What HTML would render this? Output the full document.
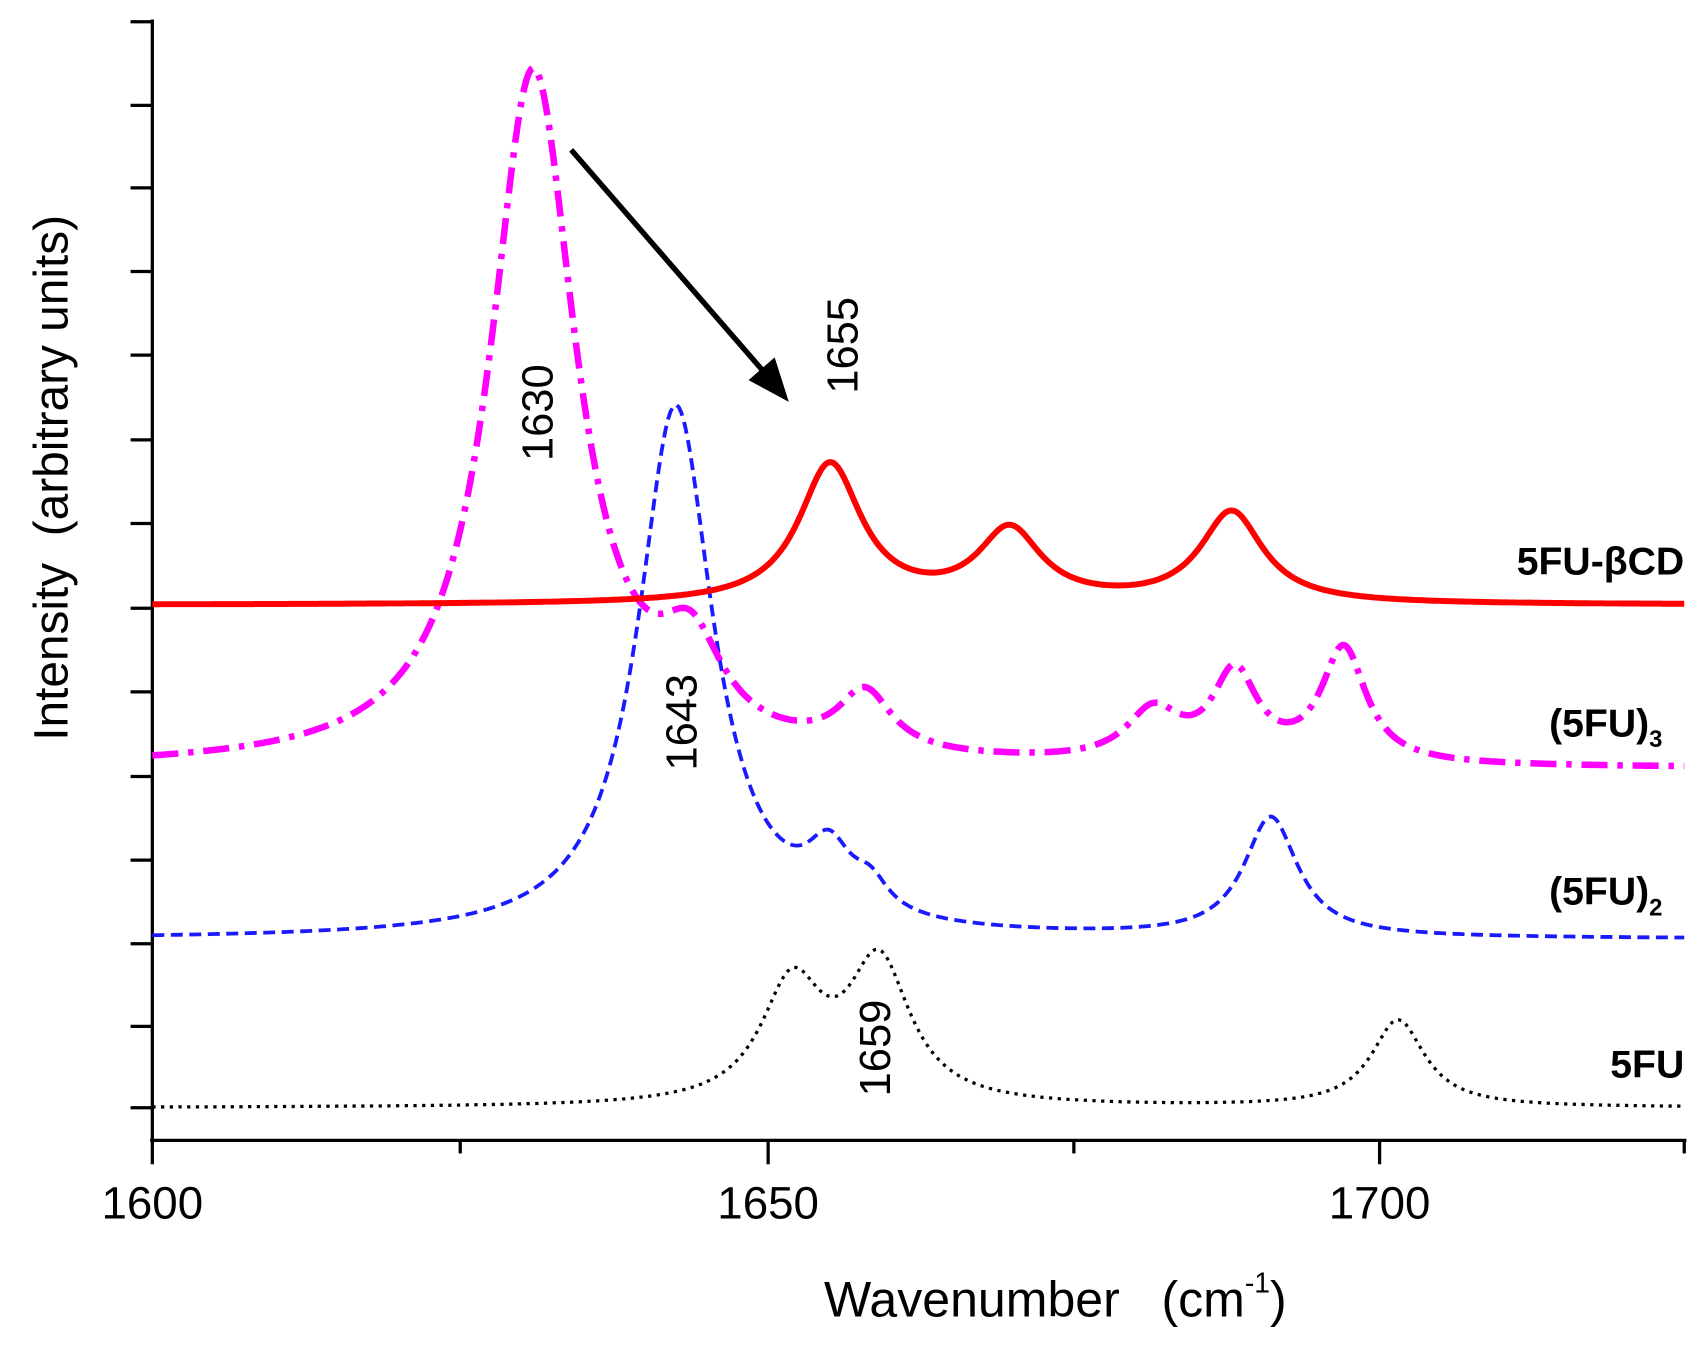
<!DOCTYPE html>
<html><head><meta charset="utf-8"><style>
html,body{margin:0;padding:0;background:#fff;}
svg{display:block;}
text{font-family:"Liberation Sans",Arial,sans-serif;}
</style></head><body>
<svg id="s" width="1706" height="1350" viewBox="0 0 1568 1243" preserveAspectRatio="none" xmlns="http://www.w3.org/2000/svg">
<rect width="1568" height="1243" fill="#fff"/>
<g stroke="#000" stroke-width="3" fill="none">
<line x1="140" y1="18" x2="140" y2="1052"/>
<line x1="138" y1="1050" x2="1550" y2="1050"/>
</g>
<g id="ticks" stroke="#000" stroke-width="3"></g>
<g font-size="42" text-anchor="middle" fill="#000">
<text x="140" y="1122">1600</text>
<text x="706" y="1122">1650</text>
<text x="1268" y="1122">1700</text>
</g>
<text x="970" y="1212" font-size="46" text-anchor="middle">Wavenumber&#160;&#160;&#160;(cm<tspan font-size="26" dy="-22">-1</tspan><tspan dy="22">)</tspan></text>
<text transform="translate(62,440) rotate(-90)" font-size="44" text-anchor="middle">Intensity&#160;&#160;(arbitrary units)</text>
<path id="pk" d="" stroke="#000" fill="none" stroke-width="3" stroke-dasharray="3 5"/>
<path id="pb" d="" stroke="#1a1aff" fill="none" stroke-width="3.5" stroke-dasharray="11 6"/>
<path id="pm" d="" stroke="#ff00ff" fill="none" stroke-width="6" stroke-dasharray="24 9 5 9"/>
<path id="pr" d="" stroke="#ff0000" fill="none" stroke-width="5.5"/>
<line x1="525" y1="138" x2="700" y2="340" stroke="#000" stroke-width="5"/>
<polygon points="725,370 688,350 712,329" fill="#000"/>
<g font-size="40" fill="#000" text-anchor="middle">
<text transform="translate(508,380) rotate(-90)">1630</text>
<text transform="translate(788,318) rotate(-90)">1655</text>
<text transform="translate(640,665) rotate(-90)">1643</text>
<text transform="translate(818,965) rotate(-90)">1659</text>
</g>
<g font-size="36" font-weight="bold" fill="#000" text-anchor="end">
<text x="1548" y="529">5FU-βCD</text>
<text x="1528" y="678">(5FU)<tspan font-size="22" dy="10">3</tspan></text>
<text x="1528" y="833">(5FU)<tspan font-size="22" dy="10">2</tspan></text>
<text x="1548" y="992">5FU</text>
</g>
</svg>
<script>
var t=document.getElementById('ticks'),h='';
var ys=[20,97,173,250,327,405,482,560,637,715,792,869,945,1020];
ys.forEach(function(y){h+='<line x1="120" y1="'+y+'" x2="140" y2="'+y+'"/>';});
[[140,22],[423,12],[706,22],[987,12],[1268,22],[1548,12]].forEach(function(a){h+='<line x1="'+a[0]+'" y1="1050" x2="'+a[0]+'" y2="'+(1050+a[1])+'"/>';});
t.innerHTML=h;
function mk(id,base,pks){var d='';for(var x=140;x<=1548;x+=2){var v=0;pks.forEach(function(p){var u=(x-p[0])/p[2];v+=p[1]/(1+u*u);});d+=(x==140?'M':'L')+x+','+(base-v).toFixed(1);}document.getElementById(id).setAttribute('d',d);}
mk('pr',557,[[763,128,35],[928,66,35],[1132,84,35]]);
mk('pm',708,[[490,640,48],[635,80,35],[795,55,30],[1060,45,30],[1135,80,25],[1235,105,25]]);
mk('pb',865,[[621,490,42],[762,55,25],[800,25,20],[1168,110,30]]);
mk('pk',1020,[[728,108,35],[808,128,35],[1285,80,30]]);
</script>
</body></html>
